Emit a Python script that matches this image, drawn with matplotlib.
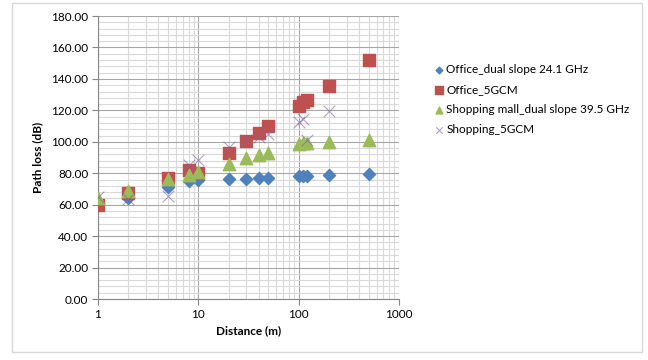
import numpy as np
import matplotlib
matplotlib.use('Agg')
import matplotlib.pyplot as plt
from matplotlib.patches import Rectangle
from matplotlib.ticker import FixedLocator, FuncFormatter, MultipleLocator

plt.rcParams['font.family'] = ['Lato', 'DejaVu Sans']

# distances (m)
dist = [1, 2, 5, 8, 10, 20, 30, 40, 50, 100, 110, 120, 200, 500]

office_ds = [61, 64.5, 71.5, 75, 75.5, 76.4, 76.6, 76.8, 77.3, 78, 78.2, 78.4, 79, 79.8]
office_5g = [59.8, 67.2, 77.2, 82.1, 80.4, 93, 100.4, 105.3, 109.8, 122.6, 125.4, 126.4, 135.3, 152.3]
mall_ds = [64.3, 68.8, 76.2, 79, 80.8, 86, 89.6, 91.5, 93, 98.5, 99, 99.2, 99.8, 101.4]
mall_5g = [64.8, 63.5, 65.6, 85.4, 88.3, 96.5, 101, 103, 105.2, 112.8, 114.6, 101.4, 119.5]
mall_5g_dist = [1, 2, 5, 8, 10, 20, 30, 40, 50, 100, 110, 120, 200]

labels = ['Office_dual slope 24.1 GHz', 'Office_5GCM',
          'Shopping mall_dual slope 39.5 GHz', 'Shopping_5GCM']

fig = plt.figure(figsize=(6.48, 3.6), dpi=100)
fig.patches.append(Rectangle((0.0185, 0.022), 0.972, 0.970, transform=fig.transFigure,
                             fill=False, edgecolor='#D9D9D9', linewidth=1))
ax = fig.add_axes([0.1512, 0.1694, 0.4645, 0.786])

ax.scatter(dist, office_ds, marker='D', s=38, color='#4F81BD', label=labels[0], zorder=3)
ax.scatter(dist, office_5g, marker='s', s=85, color='#C0504D', label=labels[1], zorder=3)
ax.scatter(dist, mall_ds, marker='^', s=80, color='#9BBB59', label=labels[2], zorder=3)
ax.scatter(mall_5g_dist, mall_5g, marker='x', s=70, color='#8064A2', linewidths=0.8,
           alpha=0.6, label=labels[3], zorder=3)

ax.set_xscale('log')
ax.set_xlim(1, 1000)
ax.set_ylim(0, 180)
ax.xaxis.set_major_locator(FixedLocator([1, 10, 100, 1000]))
ax.xaxis.set_minor_locator(FixedLocator([m * 10 ** e for e in range(3) for m in range(2, 10)]))
ax.xaxis.set_major_formatter(FuncFormatter(lambda v, p: '%d' % v))
ax.xaxis.set_minor_formatter(FuncFormatter(lambda v, p: ''))
ax.yaxis.set_major_locator(MultipleLocator(20))
ax.yaxis.set_minor_locator(MultipleLocator(4))
ax.yaxis.set_major_formatter(FuncFormatter(lambda v, p: '%.2f' % v))

ax.grid(True, which='major', color='#A6A6A6', linewidth=0.8)
ax.grid(True, which='minor', color='#D9D9D9', linewidth=0.8)
ax.set_axisbelow(True)
for s in ['top', 'right']:
    ax.spines[s].set_visible(False)
for s in ['left', 'bottom']:
    ax.spines[s].set_color('#868686')
ax.tick_params(which='major', length=4, color='#868686', labelsize=8.5, pad=3)
ax.tick_params(which='minor', length=0)

ax.set_xlabel('Distance (m)', fontsize=8.5, fontweight='bold', labelpad=4)
ax.set_ylabel('Path loss (dB)', fontsize=8.5, fontweight='bold', labelpad=6)

fig.legend(loc='upper left', bbox_to_anchor=(0.665, 0.835), frameon=False, fontsize=8.5,
           handlelength=0.6, handletextpad=0.3, labelspacing=0.75, markerscale=0.55,
           borderaxespad=0)

fig.savefig('out.png', dpi=100)
